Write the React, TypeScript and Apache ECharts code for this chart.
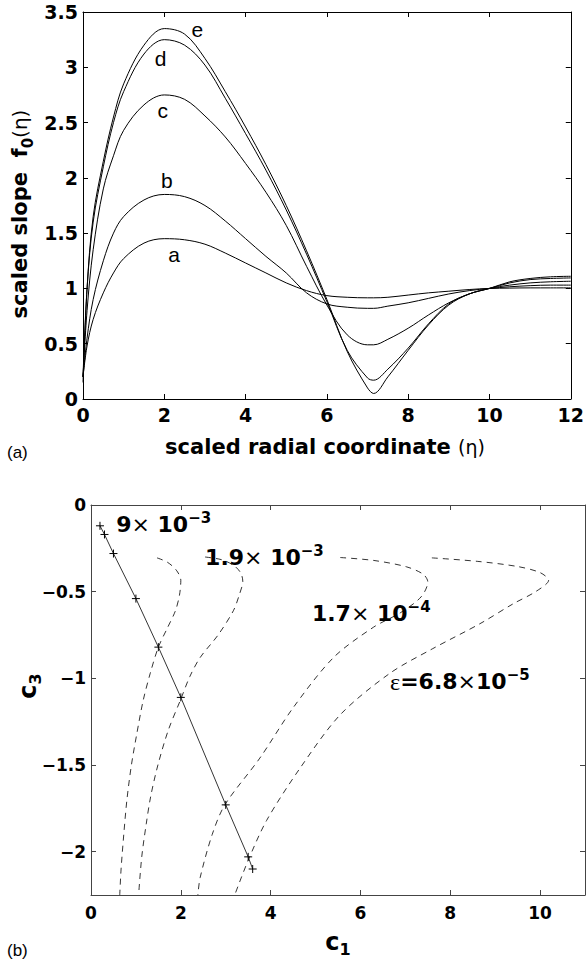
import React, { useEffect, useRef } from "react";
import * as echarts from "echarts";

// ---------- panel (a): scaled slope f0(eta) ----------
const ETA = [0, 0.1, 0.25, 0.5, 0.75, 1, 1.5, 2, 2.5, 3, 3.5, 4, 4.5, 5, 5.5, 6, 6.5, 7, 7.15, 7.5, 8, 8.5, 9, 9.5, 10, 10.5, 11, 11.5, 12];
const CURVE_A = [0.2, 0.48, 0.72, 0.96, 1.14, 1.27, 1.41, 1.45, 1.44, 1.4, 1.32, 1.23, 1.14, 1.05, 0.98, 0.935, 0.92, 0.915, 0.915, 0.92, 0.94, 0.96, 0.975, 0.99, 1.0, 1.003, 1.005, 1.005, 1.005];
const CURVE_B = [0.2, 0.55, 0.9, 1.25, 1.5, 1.65, 1.8, 1.85, 1.83, 1.75, 1.61, 1.45, 1.29, 1.14, 0.96, 0.86, 0.83, 0.82, 0.82, 0.84, 0.87, 0.91, 0.95, 0.98, 1.0, 1.015, 1.025, 1.03, 1.03];
const CURVE_C = [0.2, 0.8, 1.35, 1.9, 2.2, 2.43, 2.66, 2.75, 2.71, 2.56, 2.37, 2.13, 1.87, 1.57, 1.2, 0.85, 0.58, 0.49, 0.49, 0.54, 0.64, 0.76, 0.87, 0.95, 1.0, 1.03, 1.05, 1.06, 1.065];
const CURVE_D = [0.2, 1.0, 1.6, 2.1, 2.5, 2.78, 3.12, 3.25, 3.2, 3.02, 2.72, 2.4, 2.07, 1.71, 1.31, 0.88, 0.44, 0.19, 0.17, 0.27, 0.46, 0.68, 0.86, 0.95, 1.0, 1.05, 1.08, 1.09, 1.095];
const CURVE_E = [0.15, 1.0, 1.65, 2.15, 2.55, 2.85, 3.2, 3.35, 3.3, 3.08, 2.78, 2.46, 2.12, 1.75, 1.34, 0.9, 0.43, 0.1, 0.05, 0.2, 0.44, 0.67, 0.85, 0.95, 1.0, 1.06, 1.09, 1.105, 1.11];
const CURVE_NAMES = ["a", "b", "c", "d", "e"];
const CURVES = [CURVE_A, CURVE_B, CURVE_C, CURVE_D, CURVE_E];
const A_X_TICKS = [0, 2, 4, 6, 8, 10, 12];

// ---------- panel (b): c3 vs c1 ----------
const SOLID_C1 = [0.2, 0.3, 0.5, 1.0, 1.5, 2.0, 3.0, 3.5, 3.6];
const SOLID_C3 = [-0.12, -0.17, -0.28, -0.54, -0.82, -1.11, -1.73, -2.03, -2.1];

const EPS1_C1 = [1.47, 1.7, 1.9, 2.0, 1.97, 1.88, 1.7, 1.5, 1.32, 1.16, 1.02, 0.9, 0.8, 0.73, 0.67, 0.64];
const EPS1_C3 = [-0.305, -0.33, -0.376, -0.434, -0.52, -0.61, -0.71, -0.82, -0.97, -1.13, -1.32, -1.5, -1.7, -1.9, -2.1, -2.25];
const EPS2_C1 = [2.54, 2.9, 3.17, 3.33, 3.38, 3.3, 3.17, 2.83, 2.43, 2.2, 2.0, 1.72, 1.49, 1.33, 1.23, 1.13, 1.06];
const EPS2_C3 = [-0.3, -0.315, -0.347, -0.39, -0.44, -0.52, -0.61, -0.75, -0.88, -0.99, -1.12, -1.3, -1.5, -1.68, -1.84, -2.03, -2.25];
const EPS3_C1 = [5.55, 6.3, 7.03, 7.4, 7.5, 7.35, 6.9, 6.29, 5.4, 4.5, 3.76, 2.98, 2.7, 2.43, 2.38];
const EPS3_C3 = [-0.303, -0.32, -0.357, -0.4, -0.444, -0.53, -0.62, -0.705, -0.88, -1.17, -1.46, -1.73, -1.9, -2.15, -2.25];
const EPS4_C1 = [7.59, 8.6, 9.5, 10.0, 10.19, 9.9, 9.4, 8.66, 7.6, 6.66, 5.55, 4.65, 3.91, 3.5, 3.2];
const EPS4_C3 = [-0.305, -0.325, -0.355, -0.39, -0.434, -0.5, -0.57, -0.685, -0.83, -0.97, -1.21, -1.52, -1.82, -2.05, -2.25];
const EPS_C1 = [EPS1_C1, EPS2_C1, EPS3_C1, EPS4_C1];
const EPS_C3 = [EPS1_C3, EPS2_C3, EPS3_C3, EPS4_C3];
const EPS_MANTISSA = ["9", "1.9", "1.7", "6.8"];
const EPS_EXPONENT = ["\u22123", "\u22123", "\u22124", "\u22125"];
const B_X_TICKS = [0, 2, 4, 6, 8, 10];
const B_Y_TICKS = [0, -0.5, -1, -1.5, -2];

const FONT = "DejaVu Sans";
const HELV = "Liberation Sans";

const fmtMinus = (v: number) => (v < 0 ? "\u2212" + String(Math.abs(v)) : String(v));

export default function App() {
  const ref = useRef<HTMLDivElement>(null);

  useEffect(() => {
    document.body.style.margin = "0";
    if (!ref.current) return;
    const chart = echarts.init(ref.current, undefined, { renderer: "svg" });

    const frame = (color: string) => ({ show: true, onZero: false, lineStyle: { color, width: 1 } });
    const tickIn = (color: string) => ({ show: true, inside: true, length: 5, lineStyle: { color, width: 1 } });

    const topCurveSeries = CURVES.map((vals, k) => ({
      type: "line",
      name: CURVE_NAMES[k],
      xAxisIndex: 0,
      yAxisIndex: 0,
      data: ETA.map((x, i) => [x, vals[i]]),
      showSymbol: false,
      smooth: 0.35,
      lineStyle: { color: "#000", width: 1 },
      silent: true,
      z: 3,
    }));

    const curveLabelAnchors = [
      [2.24, 1.31],
      [2.06, 1.98],
      [1.96, 2.61],
      [1.91, 3.08],
      [2.81, 3.34],
    ];

    const epsSeries = EPS_C1.map((xs, k) => ({
      type: "line",
      xAxisIndex: 2,
      yAxisIndex: 2,
      data: xs.map((x, i) => [x, EPS_C3[k][i]]),
      showSymbol: false,
      smooth: 0.3,
      lineStyle: { color: "#000", width: 0.8, type: [6, 5] },
      silent: true,
    }));

    const annoAnchors = [
      [0.56, -0.11],
      [2.54, -0.3],
      [4.92, -0.625],
      [6.66, -1.02],
    ];

    const annoText = (k: number) => {
      const prefix = k === 3 ? "{g|\u03b5}{m|=}" : "";
      const times = k === 3 ? "{x|\u00d7}{m|10}" : "{x|\u00d7}{m| 10}";
      return prefix + "{m|" + EPS_MANTISSA[k] + "}" + times + "{u|" + EPS_EXPONENT[k] + "}";
    };

    const option: any = {
      animation: false,
      backgroundColor: "#fff",
      grid: [
        { left: 83, top: 12, width: 493, height: 387 },
        { left: 91, top: 505, width: 494, height: 390 },
      ],
      xAxis: [
        {
          gridIndex: 0, type: "value", min: 0, max: 12, interval: 2, position: "bottom",
          axisLine: frame("#000"), axisTick: tickIn("#000"), splitLine: { show: false },
          axisLabel: { color: "#000", fontFamily: FONT, fontWeight: "bold", fontSize: 19, margin: 6, customValues: A_X_TICKS },
        },
        {
          gridIndex: 0, type: "value", min: 0, max: 12, interval: 2, position: "top",
          axisLine: frame("#000"), axisTick: tickIn("#000"), splitLine: { show: false }, axisLabel: { show: false },
        },
        {
          gridIndex: 1, type: "value", min: 0, max: 11, position: "bottom",
          axisLine: frame("#444"), axisTick: { ...tickIn("#444"), customValues: B_X_TICKS }, splitLine: { show: false },
          axisLabel: { color: "#000", fontFamily: FONT, fontWeight: "bold", fontSize: 17, margin: 9, customValues: B_X_TICKS },
        },
        {
          gridIndex: 1, type: "value", min: 0, max: 11, position: "top",
          axisLine: frame("#444"), axisTick: { ...tickIn("#444"), customValues: B_X_TICKS }, splitLine: { show: false },
          axisLabel: { show: false, customValues: B_X_TICKS },
        },
      ],
      yAxis: [
        {
          gridIndex: 0, type: "value", min: 0, max: 3.5, interval: 0.5, position: "left",
          axisLine: frame("#000"), axisTick: tickIn("#000"), splitLine: { show: false },
          axisLabel: { color: "#000", fontFamily: FONT, fontWeight: "bold", fontSize: 19, margin: 5 },
        },
        {
          gridIndex: 0, type: "value", min: 0, max: 3.5, interval: 0.5, position: "right",
          axisLine: frame("#000"), axisTick: tickIn("#000"), splitLine: { show: false }, axisLabel: { show: false },
        },
        {
          gridIndex: 1, type: "value", min: -2.25, max: 0, position: "left",
          axisLine: frame("#444"), axisTick: { ...tickIn("#444"), customValues: B_Y_TICKS }, splitLine: { show: false },
          axisLabel: { color: "#000", fontFamily: FONT, fontWeight: "bold", fontSize: 17, margin: 5, customValues: B_Y_TICKS, formatter: fmtMinus },
        },
        {
          gridIndex: 1, type: "value", min: -2.25, max: 0, position: "right",
          axisLine: frame("#444"), axisTick: { ...tickIn("#444"), customValues: B_Y_TICKS }, splitLine: { show: false },
          axisLabel: { show: false, customValues: B_Y_TICKS },
        },
      ],
      series: [
        ...topCurveSeries,
        {
          type: "scatter",
          xAxisIndex: 0,
          yAxisIndex: 0,
          symbolSize: 0,
          itemStyle: { color: "#000", opacity: 1 },
          silent: true,
          z: 6,
          data: CURVE_NAMES.map((n, k) => ({ name: n, value: curveLabelAnchors[k] })),
          label: {
            show: true, position: "inside", formatter: "{b}", color: "#000", opacity: 1,
            textBorderWidth: 0, fontFamily: HELV, fontSize: 21,
          },
        },
        ...epsSeries,
        {
          type: "line",
          xAxisIndex: 2,
          yAxisIndex: 2,
          data: SOLID_C1.map((x, i) => [x, SOLID_C3[i]]),
          showSymbol: true,
          symbol: "path://M0,4L8,4M4,0L4,8",
          symbolSize: 8,
          lineStyle: { color: "#000", width: 0.8 },
          itemStyle: { color: "rgba(0,0,0,0)", borderColor: "#000", borderWidth: 1 },
          silent: true,
          z: 4,
        },
        {
          type: "scatter",
          xAxisIndex: 2,
          yAxisIndex: 2,
          symbolSize: 0,
          itemStyle: { color: "#000", opacity: 1 },
          silent: true,
          z: 6,
          data: EPS_MANTISSA.map((m, k) => ({ name: m, value: annoAnchors[k], label: { formatter: annoText(k) } })),
          label: {
            show: true,
            position: "right",
            distance: 0,
            color: "#000",
            opacity: 1,
            textBorderWidth: 0,
            rich: {
              m: { fontFamily: FONT, fontWeight: "bold", fontSize: 22, lineHeight: 28, color: "#000" },
              x: { fontFamily: FONT, fontWeight: "normal", fontSize: 22, lineHeight: 28, color: "#000" },
              g: { fontFamily: "Liberation Serif", fontWeight: "normal", fontSize: 24, lineHeight: 28, color: "#000" },
              u: { fontFamily: FONT, fontWeight: "bold", fontSize: 15, lineHeight: 14, verticalAlign: "top", color: "#000" },
            },
          },
        },
      ],
      graphic: [
        {
          type: "text",
          x: 20,
          y: 214,
          rotation: Math.PI / 2,
          style: {
            text: "{b|scaled slope  f}{s|0}{n|(\u03b7)}",
            align: "center",
            verticalAlign: "middle",
            rich: {
              b: { fontFamily: FONT, fontWeight: "bold", fontSize: 21, lineHeight: 30, fill: "#000" },
              s: { fontFamily: FONT, fontWeight: "bold", fontSize: 15, lineHeight: 14, verticalAlign: "bottom", fill: "#000" },
              n: { fontFamily: FONT, fontWeight: "normal", fontSize: 20, lineHeight: 30, fill: "#000" },
            },
          },
        },
        {
          type: "text",
          x: 325,
          y: 447,
          style: {
            text: "{b|scaled radial coordinate }{n|(\u03b7)}",
            align: "center",
            verticalAlign: "middle",
            rich: {
              b: { fontFamily: FONT, fontWeight: "bold", fontSize: 21, lineHeight: 28, fill: "#000" },
              n: { fontFamily: FONT, fontWeight: "normal", fontSize: 19, lineHeight: 28, fill: "#000" },
            },
          },
        },
        {
          type: "text",
          x: 7,
          y: 452,
          style: { text: "(a)", fontFamily: HELV, fontSize: 17, fill: "#000", align: "left", verticalAlign: "middle" },
        },
        {
          type: "text",
          x: 28,
          y: 686,
          rotation: Math.PI / 2,
          style: {
            text: "{b|c}{s|3}",
            align: "center",
            verticalAlign: "middle",
            rich: {
              b: { fontFamily: FONT, fontWeight: "bold", fontSize: 24, lineHeight: 30, fill: "#000" },
              s: { fontFamily: FONT, fontWeight: "bold", fontSize: 16, lineHeight: 16, verticalAlign: "bottom", fill: "#000" },
            },
          },
        },
        {
          type: "text",
          x: 338,
          y: 942,
          style: {
            text: "{b|c}{s|1}",
            align: "center",
            verticalAlign: "middle",
            rich: {
              b: { fontFamily: FONT, fontWeight: "bold", fontSize: 24, lineHeight: 30, fill: "#000" },
              s: { fontFamily: FONT, fontWeight: "bold", fontSize: 16, lineHeight: 16, verticalAlign: "bottom", fill: "#000" },
            },
          },
        },
        {
          type: "text",
          x: 7,
          y: 950,
          style: { text: "(b)", fontFamily: HELV, fontSize: 17, fill: "#000", align: "left", verticalAlign: "middle" },
        },
      ],
    };

    chart.setOption(option);
    return () => chart.dispose();
  }, []);

  return <div ref={ref} style={{ width: 587, height: 962 }} />;
}
